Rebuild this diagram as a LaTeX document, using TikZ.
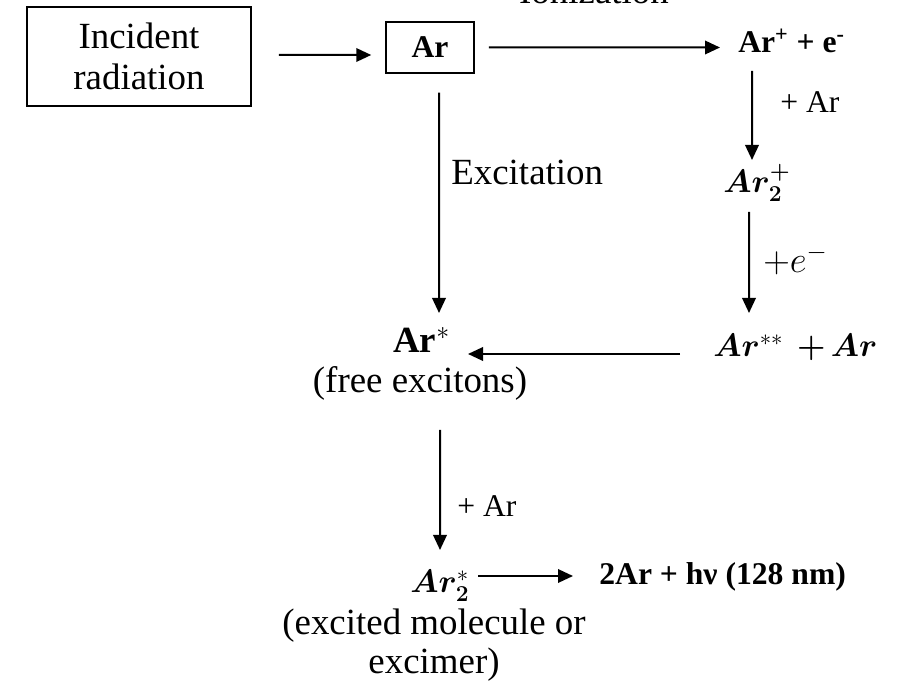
\documentclass[tikz,border=0pt]{standalone}
\usepackage{fix-cm}
\usepackage{amsmath}
\usepackage{bm}
\usepackage{fontspec}
\setmainfont{Liberation Serif}
\usepackage{tikz}
\usetikzlibrary{arrows.meta, positioning}

\begin{document}
\begin{tikzpicture}[
  box/.style={draw=black, line width=0.03cm, inner sep=0pt, align=center},
  txt/.style={inner sep=0pt, font=\fontsize{21}{24}\selectfont},
  mtxt/.style={inner sep=0pt, font=\fontsize{18.5}{21}\selectfont},
  btxt/.style={inner sep=0pt, font=\fontsize{18}{21}\selectfont\bfseries},
  lbl/.style={inner sep=0pt, font=\fontsize{18}{21}\selectfont},
  arr/.style={-{Triangle[length=0.3cm, width=0.27cm]}, line width=0.04cm},
]
\useasboundingbox (0,0) rectangle (17.94,-13.72);
\clip (0,0) rectangle (17.94,-13.72);
\node[box, txt, align=center, minimum width=4.48cm, minimum height=1.98cm,
      font=\fontsize{21}{23.5}\selectfont] (inc) at (2.78,-1.13) {Incident\\radiation};
\node[box, btxt, minimum width=1.76cm, minimum height=1.02cm] (ar) at (8.6,-0.95) {Ar};
\node[txt, anchor=base] (ion) at (11.88,-0.08) {Ionization};
\node[btxt, anchor=base west] (arp) at (14.76,-1.06) {Ar\textsuperscript{+} + e\textsuperscript{-}};
\node[lbl, anchor=base west] (plusar) at (15.6,-2.26) {+ Ar};
\node[mtxt, anchor=base west] (artwop) at (14.46,-3.86) {$\bm{Ar}_{\bm{2}}^{\bm{+}}$};
\node[txt, anchor=base west] (pluse) at (15.26,-5.46) {$+e^{-}$};
\node[mtxt, anchor=base west] (arss) at (14.26,-7.14) {$\bm{Ar}^{**}\ \,{\bm{+}}\,\bm{Ar}$};
\node[txt, anchor=base west] (exc) at (9.02,-3.7) {Excitation};
\node[txt, anchor=base west] (arst) at (7.86,-7.06) {\textbf{Ar}$^{*}$};
\node[txt, anchor=base] (free) at (8.4,-7.86) {(free excitons)};
\node[lbl, anchor=base west] (plusarb) at (9.14,-10.34) {+ Ar};
\node[mtxt, anchor=base west] (artwos) at (8.2,-11.86) {$\bm{Ar}_{\bm{2}}^{*}$};
\node[btxt, anchor=base west] (hv) at (11.98,-11.7) {2Ar + hν (128 nm)};
\node[txt, anchor=north, align=center, font=\fontsize{21}{22}\selectfont] (excim) at (8.68,-12.17)
      {(excited molecule or\\excimer)};
\draw[arr] ([shift={(0.54,0.03)}]inc.east) -- ([shift={(-0.28,-0.15)}]ar.west);
\draw[arr] ([shift={(0.28,0)}]ar.east) -- ([shift={(-0.36,0.11)}]arp.base west);
\draw[arr] ([shift={(0.28,-0.36)}]arp.base west) -- ([shift={(0.58,0.66)}]artwop.base west);
\draw[arr] ([shift={(0.52,-0.38)}]artwop.base west) -- ([shift={(0.72,0.88)}]arss.base west);
\draw[arr] ([shift={(-0.66,0.06)}]arss.base west) -- ([shift={(1.5,-0.02)}]arst.base west);
\draw[arr] ([shift={(0.18,-0.38)}]ar.south) -- ([shift={(0.92,0.8)}]arst.base west);
\draw[arr] ([shift={(0.4,-0.74)}]free.base) -- ([shift={(0.6,0.86)}]artwos.base west);
\draw[arr] ([shift={(1.36,0.34)}]artwos.base west) -- ([shift={(-0.52,0.18)}]hv.base west);
\end{tikzpicture}
\end{document}
